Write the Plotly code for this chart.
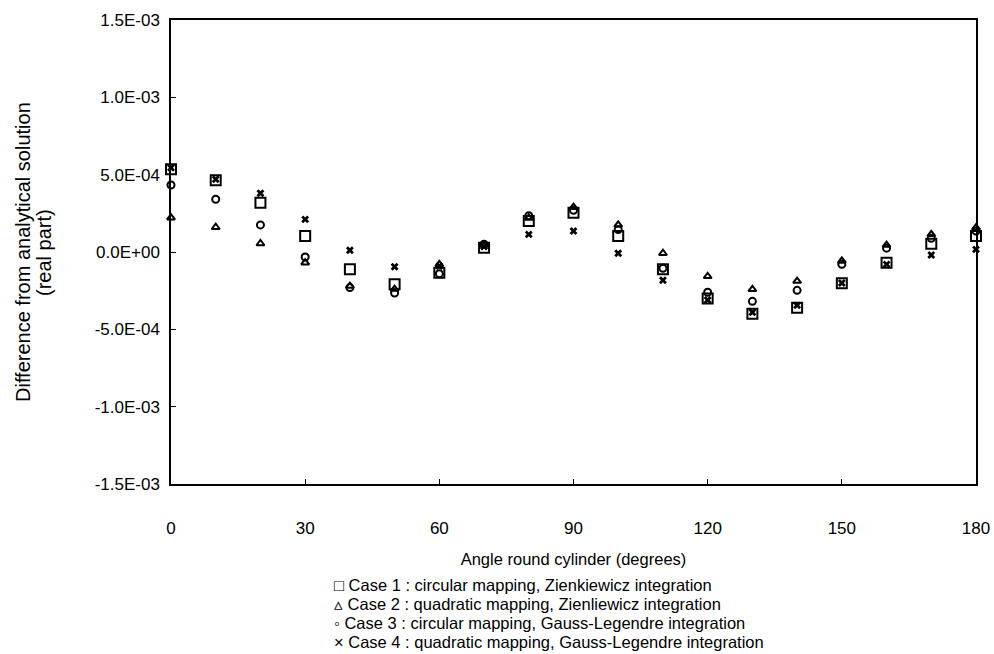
import plotly.graph_objects as go

angles = [0, 10, 20, 30, 40, 50, 60, 70, 80, 90, 100, 110, 120, 130, 140, 150, 160, 170, 180]

case1 = [5.35e-4, 4.64e-4, 3.19e-4, 1.03e-4, -1.12e-4, -2.09e-4, -1.34e-4, 2.8e-5, 2.0e-4, 2.54e-4,
         1.03e-4, -1.12e-4, -3.0e-4, -4.0e-4, -3.6e-4, -2.02e-4, -6.9e-5, 5.4e-5, 1.03e-4]
case2 = [2.22e-4, 1.6e-4, 5.5e-5, -6.9e-5, -2.2e-4, -2.4e-4, -8.0e-5, 4.5e-5, 2.2e-4, 2.9e-4,
         1.75e-4, -8e-6, -1.57e-4, -2.41e-4, -1.88e-4, -5.8e-5, 4.5e-5, 1.14e-4, 1.57e-4]
case3 = [4.33e-4, 3.41e-4, 1.75e-4, -3.2e-5, -2.3e-4, -2.65e-4, -1.4e-4, 5e-5, 2.35e-4, 2.7e-4,
         1.45e-4, -1.05e-4, -2.6e-4, -3.19e-4, -2.48e-4, -8e-5, 2.5e-5, 8.9e-5, 1.36e-4]
case4 = [5.45e-4, 4.7e-4, 3.8e-4, 2.11e-4, 1.1e-5, -9.5e-5, -9.0e-5, 3.5e-5, 1.14e-4, 1.36e-4,
         -8e-6, -1.83e-4, -3.1e-4, -3.9e-4, -3.45e-4, -2.0e-4, -8e-5, -1.9e-5, 1.7e-5]

series_names = [
    "Case 1 : circular mapping, Zienkiewicz integration",
    "Case 2 : quadratic mapping, Zienliewicz integration",
    "Case 3 : circular mapping, Gauss-Legendre integration",
    "Case 4 : quadratic mapping, Gauss-Legendre integration",
]
legend_glyphs = ["\u25a1", "\u25b5", "\u25e6", "\u00d7"]

y_tickvals = [1.5e-3, 1.0e-3, 5.0e-4, 0.0, -5.0e-4, -1.0e-3, -1.5e-3]
y_ticktext = ["1.5E-03", "1.0E-03", "5.0E-04", "0.0E+00", "-5.0E-04", "-1.0E-03", "-1.5E-03"]
x_tickvals = [0, 30, 60, 90, 120, 150, 180]
x_ticktext = ["0", "30", "60", "90", "120", "150", "180"]

y_title_lines = ["Difference from analytical solution", "(real part)"]
x_title = "Angle round cylinder (degrees)"

FONT = "Liberation Sans, Arial, sans-serif"
W, H = 994, 654
L, R, T, B = 171, 18, 20, 170
PW = W - L - R
PH = H - T - B


def px_x(px):
    return (px - L) / PW


def px_y(py):
    return (H - B - py) / PH


fig = go.Figure()
fig.add_trace(go.Scatter(x=angles, y=case1, mode="markers", name=series_names[0], cliponaxis=False,
                         marker=dict(symbol="square-open", size=10, color="black", line=dict(width=2, color="black"))))
fig.add_trace(go.Scatter(x=angles, y=case2, mode="markers", name=series_names[1], cliponaxis=False,
                         marker=dict(symbol="triangle-up-open", size=7, color="black", line=dict(width=2, color="black"))))
fig.add_trace(go.Scatter(x=angles, y=case3, mode="markers", name=series_names[2], cliponaxis=False,
                         marker=dict(symbol="circle-open", size=7, color="black", line=dict(width=2, color="black"))))
fig.add_trace(go.Scatter(x=angles, y=case4, mode="markers", name=series_names[3], cliponaxis=False,
                         marker=dict(symbol="x", size=7, color="black", line=dict(width=0))))

# two-line rotated y title, placed line by line
for txt, px in zip(y_title_lines, [23, 44]):
    fig.add_annotation(text=txt, xref="paper", yref="paper", x=px_x(px), y=0.5,
                       xanchor="center", yanchor="middle", textangle=-90, showarrow=False,
                       font=dict(family=FONT, size=20, color="black"))

# compact legend below the chart
for i, (glyph, name) in enumerate(zip(legend_glyphs, series_names)):
    fig.add_annotation(text=glyph + " " + name, xref="paper", yref="paper",
                       x=px_x(332), y=px_y(585 + i * 19), xanchor="left", yanchor="middle",
                       showarrow=False, font=dict(family=FONT, size=16.5, color="black"))

fig.update_layout(
    width=W, height=H,
    margin=dict(l=L, r=R, t=T, b=B, autoexpand=False),
    paper_bgcolor="white", plot_bgcolor="white",
    font=dict(family=FONT, size=16, color="black"),
    showlegend=False,
    xaxis=dict(range=[0, 180], tickvals=x_tickvals, ticktext=x_ticktext, automargin=False,
               showgrid=False, zeroline=False, showline=True, linecolor="black", linewidth=1.5,
               mirror=True, ticks="inside", ticklen=5, tickcolor="black", ticklabelstandoff=28,
               tickfont=dict(family=FONT, size=17, color="black"),
               title=dict(text=x_title, font=dict(family=FONT, size=16.5, color="black"), standoff=16)),
    yaxis=dict(range=[-1.5e-3, 1.5e-3], tickvals=y_tickvals, ticktext=y_ticktext, automargin=False,
               showgrid=False, zeroline=False, showline=True, linecolor="black", linewidth=1.5,
               mirror=True, ticks="inside", ticklen=5, tickcolor="black", ticklabelstandoff=6,
               tickfont=dict(family=FONT, size=17, color="black")),
)

fig.write_html("out.html", config={"displayModeBar": False},
               post_script="document.body.style.margin='0px';")
